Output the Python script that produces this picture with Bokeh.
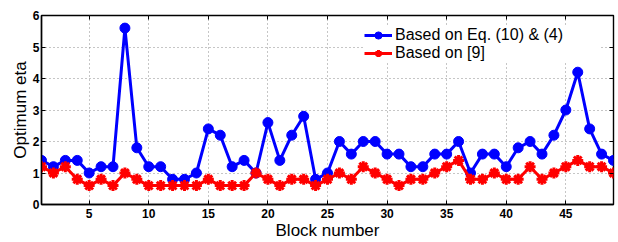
from bokeh.plotting import figure
from bokeh.models import Range1d, FixedTicker, LinearAxis, Legend, LegendItem
from bokeh.embed import file_html
from bokeh.resources import INLINE

block = list(range(1, 50))
eq_based = [1.4, 1.2, 1.4, 1.4, 1.0, 1.2, 1.2, 5.6, 1.8, 1.2,
            1.2, 0.8, 0.8, 1.0, 2.4, 2.2, 1.2, 1.4, 1.0, 2.6,
            1.4, 2.2, 2.8, 0.8, 1.0, 2.0, 1.6, 2.0, 2.0, 1.6,
            1.6, 1.2, 1.2, 1.6, 1.6, 2.0, 1.0, 1.6, 1.6, 1.2,
            1.8, 2.0, 1.6, 2.2, 3.0, 4.2, 2.4, 1.6, 1.4]
ref9_based = [1.2, 1.0, 1.2, 0.8, 0.6, 0.8, 0.6, 1.0, 0.8, 0.6,
              0.6, 0.6, 0.6, 0.6, 0.8, 0.6, 0.6, 0.6, 1.0, 0.8,
              0.6, 0.8, 0.8, 0.6, 0.8, 1.0, 0.8, 1.2, 1.0, 0.8,
              0.6, 0.8, 0.8, 1.0, 1.2, 1.4, 0.8, 0.8, 1.0, 0.8,
              0.8, 1.2, 0.8, 1.0, 1.2, 1.4, 1.2, 1.2, 1.0]
x_ticks = [5, 10, 15, 20, 25, 30, 35, 40, 45]
y_ticks = [0, 1, 2, 3, 4, 5, 6]
series_names = ["Based on Eq. (10) & (4)", "Based on [9]"]

FONT = "Liberation Sans"

p = figure(width=618, height=242, output_backend="svg", toolbar_location=None,
           x_range=Range1d(1, 49), y_range=Range1d(0, 6),
           min_border_left=41, min_border_right=5, min_border_top=15, min_border_bottom=34)
p.background_fill_color = "white"
p.border_fill_color = "white"
p.outline_line_color = "black"
p.outline_line_width = 1.4

for ax, ticks in ((p.xaxis[0], x_ticks), (p.yaxis[0], y_ticks)):
    ax.ticker = FixedTicker(ticks=ticks)
    ax.major_tick_in = 4
    ax.major_tick_out = 0
    ax.minor_tick_line_color = None
    ax.axis_line_color = "black"
    ax.axis_line_width = 1.4
    ax.major_tick_line_color = "black"
    ax.major_label_text_font = FONT
    ax.major_label_text_font_style = "bold"
    ax.major_label_text_font_size = "12px"
    ax.major_label_text_color = "black"
    ax.axis_label_text_font = FONT
    ax.axis_label_text_font_style = "normal"
    ax.axis_label_text_font_size = "17px"
    ax.axis_label_text_color = "black"

p.xaxis.axis_label = "Block number"
p.yaxis.axis_label = "Optimum eta"
p.xaxis.major_label_standoff = 4
p.yaxis.major_label_standoff = 2
p.xaxis.axis_label_standoff = 0
p.yaxis.axis_label_standoff = 0

for loc, ticks in (("above", x_ticks), ("right", y_ticks)):
    ax = LinearAxis(ticker=FixedTicker(ticks=ticks), major_tick_in=4, major_tick_out=0,
                    minor_tick_line_color=None, axis_line_color=None,
                    major_label_overrides={t: "" for t in ticks},
                    major_label_standoff=0)
    p.add_layout(ax, loc)

p.xgrid.ticker = FixedTicker(ticks=x_ticks)
p.ygrid.ticker = FixedTicker(ticks=y_ticks)
for g in (p.xgrid[0], p.ygrid[0]):
    g.grid_line_color = "#8c8c8c"
    g.grid_line_dash = "1 3"
    g.grid_line_width = 1

l1 = p.line(block, eq_based, line_color="#0000ff", line_width=3)
s1 = p.scatter(block, eq_based, marker="circle", size=10, fill_color="#0000ff",
               line_color="#0000ff", line_width=1)
l2 = p.line(block, ref9_based, line_color="#ff0000", line_width=3)
s2 = p.scatter(block, ref9_based, marker="asterisk", size=11, line_color="#ff0000",
               line_width=3)

legend = Legend(items=[LegendItem(label=series_names[0], renderers=[l1, s1]),
                       LegendItem(label=series_names[1], renderers=[l2, s2])],
                location=(323, 142))
legend.border_line_color = None
legend.background_fill_color = "white"
legend.background_fill_alpha = 1.0
legend.label_text_font = FONT
legend.label_text_font_size = "16px"
legend.label_text_color = "black"
legend.padding = 5
legend.spacing = 0
legend.margin = 0
legend.glyph_width = 28
legend.glyph_height = 18
legend.label_height = 18
legend.label_standoff = 3
legend.label_width = 205
p.add_layout(legend, "center")

open("out.html", "w").write(file_html(p, INLINE))
